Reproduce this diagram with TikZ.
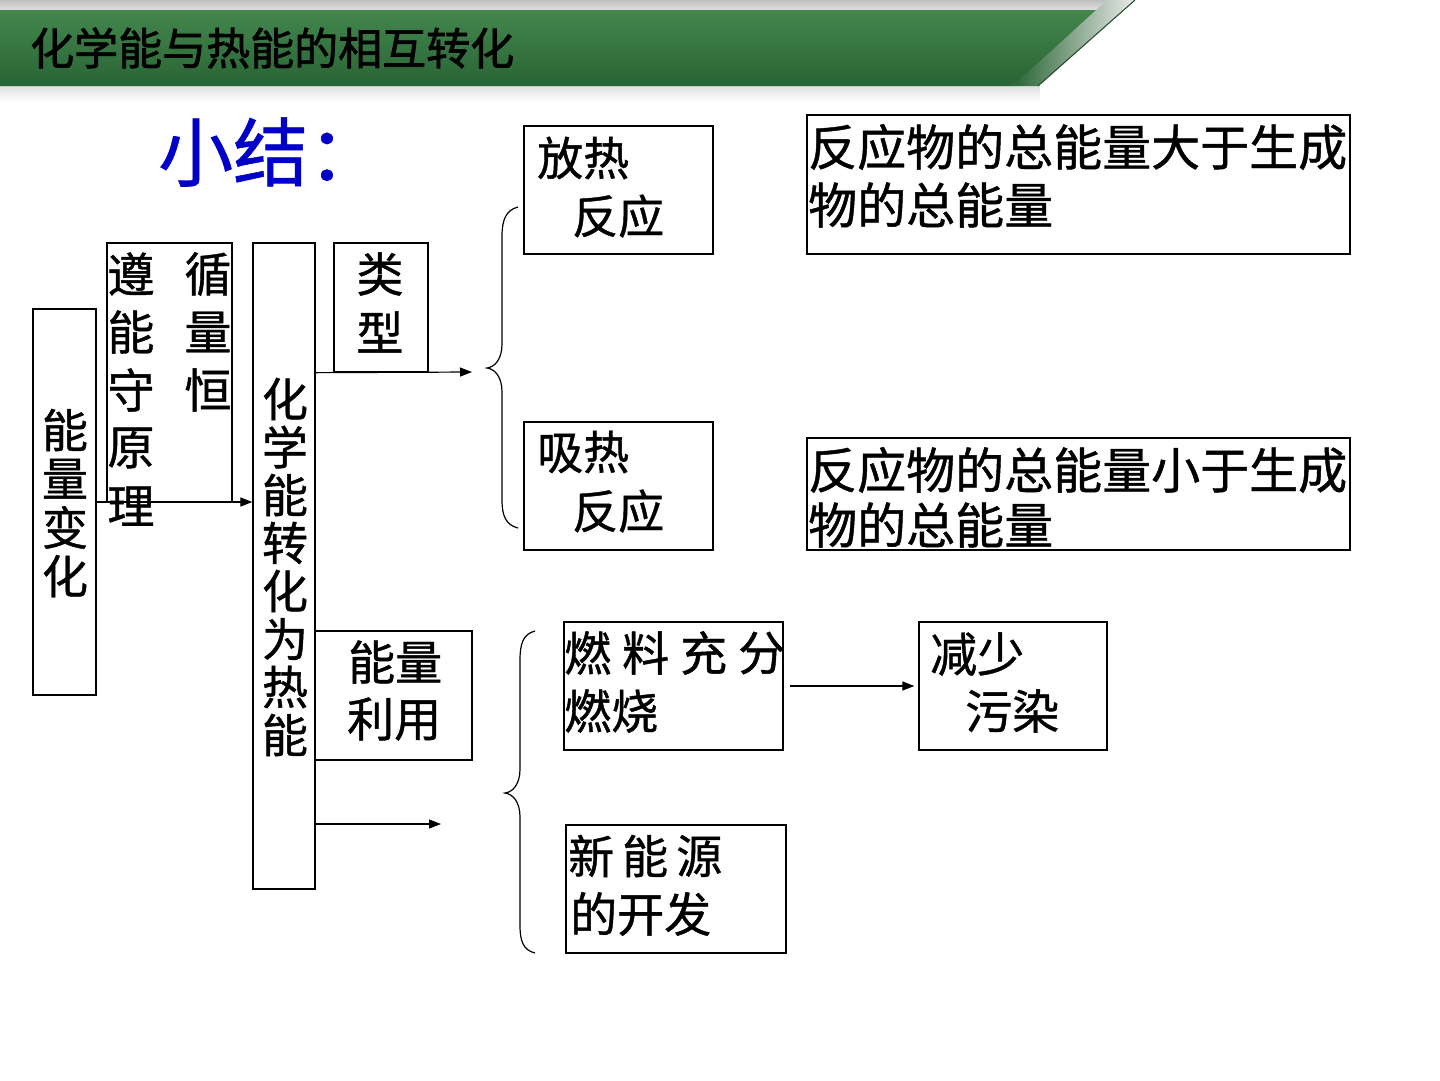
\documentclass[tikz,border=0pt]{standalone}
\usepackage{fontspec}
\setmainfont[FakeBold=0.8]{Noto Sans CJK SC}
\newfontfamily\bodyfont[FakeBold=0.9]{Noto Sans CJK SC}
\newfontfamily\cjkb[FakeBold=1.6]{Noto Sans CJK SC}
\usetikzlibrary{arrows.meta}
\definecolor{gtop}{RGB}{68,134,78}
\definecolor{gmid}{RGB}{78,148,90}
\definecolor{gbot}{RGB}{40,100,52}
\definecolor{sumblue}{RGB}{0,0,200}
\tikzset{
  box/.style={draw=black,line width=1.3pt,inner sep=0pt,minimum width=#1},
  ch/.style={inner sep=0pt,font=\bodyfont\fontsize{#1}{#1}\selectfont},
  ln/.style={inner sep=0pt,anchor=west,font=\bodyfont\fontsize{#1}{#1}\selectfont},
  conn/.style={line width=1.2pt,-{Triangle[length=12pt,width=9pt]}},
  brace/.style={line width=1.2pt}
}
\begin{document}
\begin{tikzpicture}[x=1pt,y=-1pt]
\useasboundingbox (0,0) rectangle (1440,1080);
\fill[white] (0,0) rectangle (1440,1080);
% header
\shade[top color=black!25,bottom color=black!12] (0,0) -- (1107,0) -- (1098,10) -- (0,10) -- cycle;
\shade[top color=black!12,bottom color=white] (0,86) -- (1040,86) -- (1040,102) -- (0,102) -- cycle;
\shade[top color=gtop,middle color=gmid,bottom color=gbot] (0,10) -- (1098,10) -- (1013,86) -- (0,86) -- cycle;
\shade[left color=gbot,right color=black!8] (1013,86) -- (1038,86) -- (1135,0) -- (1107,0) -- cycle;
\draw[gbot!70!black,line width=1pt] (1038,86) -- (1135,0);
\node[inner sep=0pt,anchor=west,font=\cjkb\fontsize{44}{44}\selectfont] (title) at (30,48) {化学能与热能的相互转化};
% summary
\node[inner sep=0pt,anchor=west,font=\fontsize{75}{75}\selectfont,text=sumblue] (sum) at (158,152) {小结：};
% boxes
\node[box=63pt,minimum height=386pt] (bE) at (64.5,502) {};
\node[box=125pt,minimum height=259pt] (bL) at (169.5,372.5) {};
\node[box=62pt,minimum height=646pt] (bC) at (284,566) {};
\node[box=94pt,minimum height=129pt] (bT) at (381,307.5) {};
\node[box=189pt,minimum height=128pt] (bF) at (618.5,190) {};
\node[box=189pt,minimum height=128pt] (bX) at (618.5,486) {};
\node[box=543pt,minimum height=139pt] (bD1) at (1078.5,184.5) {};
\node[box=543pt,minimum height=112pt] (bD2) at (1078.5,494) {};
\node[box=157pt,minimum height=129pt] (bU) at (393.5,695.5) {};
\node[box=219pt,minimum height=128pt] (bR) at (673.5,686) {};
\node[box=188pt,minimum height=128pt] (bP) at (1013,686) {};
\node[box=220pt,minimum height=128pt] (bN) at (676,889) {};
% vertical texts
\foreach \c [count=\i from 0] in {能,量,变,化}
  \node[ch=46] (e\i) at (65,430+48.7*\i) {\c};
\foreach \c [count=\i from 0] in {遵,能,守,原,理}
  \node[ch=47] (l\i) at (131,274+58*\i) {\c};
\foreach \c [count=\i from 0] in {循,量,恒}
  \node[ch=47] (r\i) at (208,274+58*\i) {\c};
\foreach \c [count=\i from 0] in {化,学,能,转,化,为,热,能}
  \node[ch=46] (c\i) at (285,399+48*\i) {\c};
\foreach \c [count=\i from 0] in {类,型}
  \node[ch=47] (t\i) at (380,274+58*\i) {\c};
% horizontal texts
\node[ln=46] (f1) at (537,158) {放热};
\node[ln=46] (f2) at (572,216) {反应};
\node[ln=46] (x1) at (537,452) {吸热};
\node[ln=46] (x2) at (572,511) {反应};
\node[ln=49] (d11) at (808,147) {反应物的总能量大于生成};
\node[ln=49] (d12) at (808,205) {物的总能量};
\node[ln=49] (d21) at (808,470) {反应物的总能量小于生成};
\node[ln=49] (d22) at (808,525) {物的总能量};
\node[ln=47] (u1) at (348,662) {能量};
\node[ln=47] (u2) at (347,719) {利用};
\foreach \c [count=\i from 0] in {燃,料,充,分}
  \node[ln=47] (ra\i) at (564+58*\i,653) {\c};
\node[ln=47] (rb) at (564,711) {燃烧};
\node[ln=47] (p1) at (930,654) {减少};
\node[ln=47] (p2) at (965,711) {污染};
\foreach \c [count=\i from 0] in {新,能,源}
  \node[ln=46] (na\i) at (568+54*\i,856) {\c};
\node[ln=47] (nb) at (570,914) {的开发};
% connectors
\coordinate (a1) at (472,372);
\coordinate (a2) at (441,824);
\coordinate (a0) at (315,824);
\draw[conn] (bE.east) -- (bE.east -| bC.west);
\draw[conn] (bC.east |- bT.south) -- (a1);
\draw[conn] (a0) -- (a2);
\draw[conn,shorten <=6pt,shorten >=4pt] (bR.east) -- (bP.west);
% braces
\draw[brace] (518,207) .. controls (506,210) and (502,220) .. (502,236) -- (502,344)
  .. controls (502,359) and (495,367) .. (487,368)
  .. controls (495,369) and (502,377) .. (502,392) -- (502,500)
  .. controls (502,516) and (506,525) .. (518,528);
\draw[brace] (535,631) .. controls (523,634) and (520,644) .. (520,660) -- (520,769)
  .. controls (520,784) and (513,792) .. (505,793)
  .. controls (513,794) and (520,802) .. (520,817) -- (520,925)
  .. controls (520,941) and (523,950) .. (535,953);
\end{tikzpicture}
\end{document}
